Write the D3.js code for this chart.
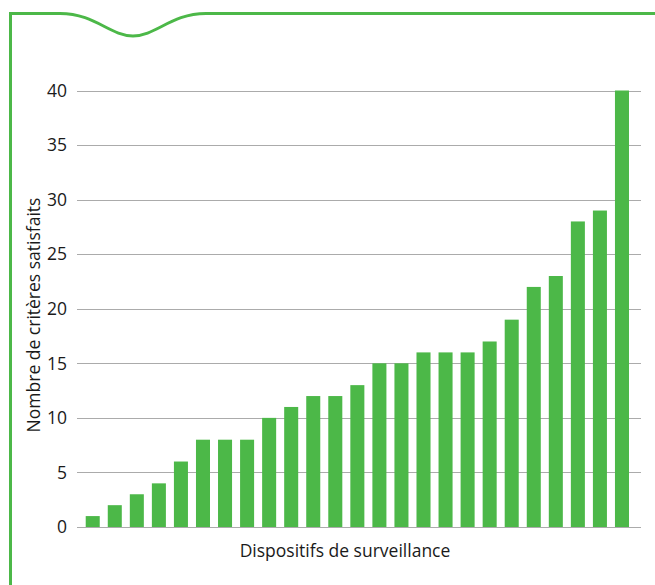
<!DOCTYPE html>
<html><head><meta charset="utf-8">
<script src="https://cdn.jsdelivr.net/npm/d3@7"></script>
<style>body{margin:0;background:#fff}svg{display:block}</style>
</head><body>
<script>
const categories = d3.range(1, 26).map(i => "D" + i);
const values = [1,2,3,4,6,8,8,8,10,11,12,12,13,15,15,16,16,16,17,19,22,23,28,29,40];
const yTicks = [0,5,10,15,20,25,30,35,40];
const yLabel = "Nombre de critères satisfaits";
const xLabel = "Dispositifs de surveillance";

const W = 655, H = 585;
const green = "#4cb848";
const svg = d3.select("body").append("svg").attr("width", W).attr("height", H);

// frame with wave
const frame = d3.path();
frame.moveTo(10.5, H);
frame.lineTo(10.5, 13.5);
frame.lineTo(60, 13.5);
frame.bezierCurveTo(95, 13.5, 110, 36, 133, 36);
frame.bezierCurveTo(156, 36, 171, 13.5, 206, 13.5);
frame.lineTo(W, 13.5);
svg.append("path").attr("d", frame.toString()).attr("fill", "none")
  .attr("stroke", green).attr("stroke-width", 3);

const x = d3.scaleBand().domain(categories).range([81.7, 633]).paddingInner(0.364).paddingOuter(0.182);
const y = d3.scaleLinear().domain([0, 40]).range([527, 90.5]);
const gx0 = 77, gx1 = 641;
const font = "Open Sans, sans-serif";

svg.append("g").selectAll("line").data(yTicks).join("line")
  .attr("x1", gx0).attr("x2", gx1)
  .attr("y1", d => Math.round(y(d)) + 0.5).attr("y2", d => Math.round(y(d)) + 0.5)
  .attr("stroke", "#ababab").attr("stroke-width", 1.2);

svg.append("g").selectAll("text").data(yTicks).join("text")
  .attr("x", 67).attr("y", d => y(d)).attr("dy", "0.36em")
  .attr("text-anchor", "end").attr("font-family", font)
  .attr("font-size", 17.5).attr("fill", "#1a1a1a").text(d => d);

svg.append("g").selectAll("rect").data(values).join("rect")
  .attr("x", (d, i) => x(categories[i])).attr("width", x.bandwidth())
  .attr("y", d => y(d)).attr("height", d => y(0) - y(d))
  .attr("fill", green);

svg.append("text").attr("transform", `translate(40,315) rotate(-90)`)
  .attr("text-anchor", "middle").attr("font-family", font)
  .attr("font-size", 17.5).attr("fill", "#1a1a1a").text(yLabel);

svg.append("text").attr("x", 345).attr("y", 557)
  .attr("text-anchor", "middle").attr("font-family", font)
  .attr("font-size", 17.5).attr("fill", "#1a1a1a").text(xLabel);
</script>
</body></html>
